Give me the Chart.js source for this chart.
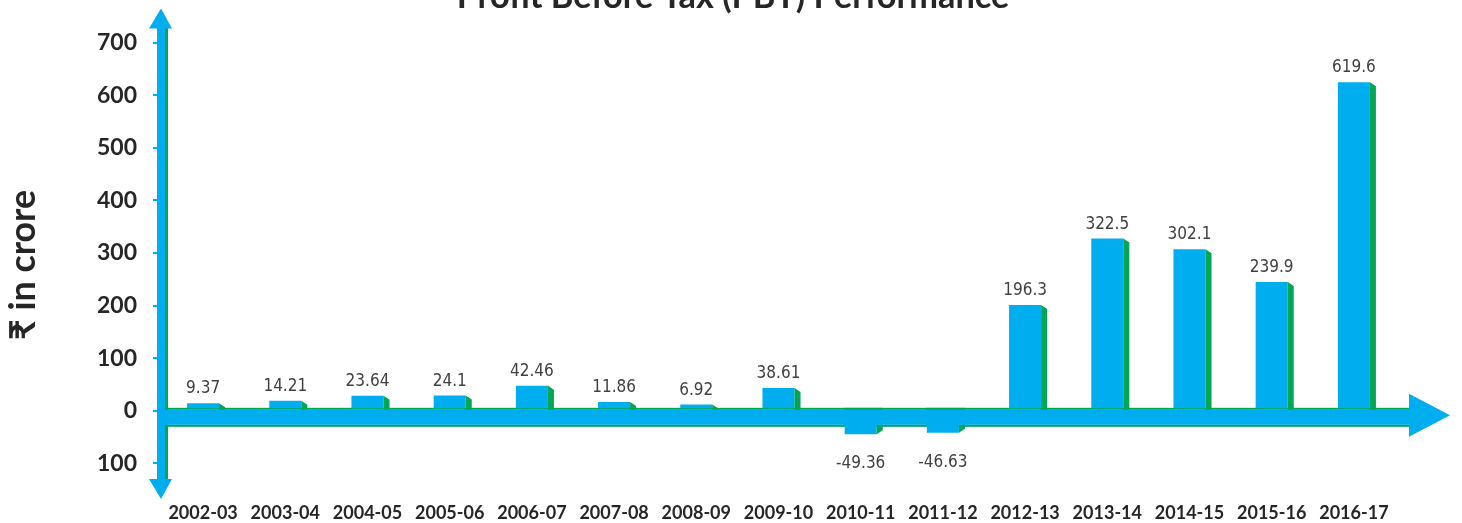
<!DOCTYPE html>
<html>
<head>
<meta charset="utf-8">
<title>PBT Performance</title>
<script src="https://cdn.jsdelivr.net/npm/chart.js@4.4.1/dist/chart.umd.min.js"></script>
<style>
  html, body { margin: 0; padding: 0; background: #ffffff; }
  #wrap { position: relative; width: 1462px; height: 523px; }
</style>
</head>
<body>
<div id="wrap"><canvas id="pbtChart"></canvas></div>
<script>
// values
const years = ['2002-03', '2003-04', '2004-05', '2005-06', '2006-07', '2007-08', '2008-09', '2009-10',
               '2010-11', '2011-12', '2012-13', '2013-14', '2014-15', '2015-16', '2016-17'];
const pbtValues = [9.37, 14.21, 23.64, 24.1, 42.46, 11.86, 6.92, 38.61,
                   -49.36, -46.63, 196.3, 322.5, 302.1, 239.9, 619.6];
const yTickValues = [-100, 0, 100, 200, 300, 400, 500, 600, 700];
const chartTitle = 'Profit Before Tax (PBT) Performance';
const yAxisTitle = '₹ in crore';

const BLUE = '#00AEEF';
const GREEN = '#00A651';
const INK = '#262626';

// hand drawn style axes: thick blue arrows with a green edge, 3D side faces on the bars
const arrowAxes = {
    id: 'arrowAxes',
    beforeDatasetsDraw(chart) {
        const { ctx, chartArea: ca, scales } = chart;
        const z = scales.y.getPixelForValue(0);
        const cx = ca.left - 1;
        ctx.save();
        // vertical axis
        ctx.fillStyle = BLUE;
        ctx.fillRect(ca.left - 5, ca.top + 16, 8, ca.bottom - ca.top - 31);
        ctx.fillStyle = GREEN;
        ctx.fillRect(ca.left + 3, ca.top + 17, 3, ca.bottom - ca.top - 33);
        ctx.fillStyle = BLUE;
        ctx.beginPath();
        ctx.moveTo(cx, ca.top - 2.5);
        ctx.lineTo(ca.left + 10, ca.top + 17.5);
        ctx.lineTo(ca.left - 13, ca.top + 17.5);
        ctx.closePath();
        ctx.fill();
        ctx.beginPath();
        ctx.moveTo(cx, ca.bottom + 4);
        ctx.lineTo(ca.left + 10, ca.bottom - 16);
        ctx.lineTo(ca.left - 13, ca.bottom - 16);
        ctx.closePath();
        ctx.fill();
        // horizontal band at zero
        ctx.fillStyle = GREEN;
        ctx.fillRect(ca.left + 3, z - 3, ca.right + 15 - (ca.left + 3), 2);
        ctx.fillRect(ca.left + 6, z + 14, ca.right + 15 - (ca.left + 6), 2);
        ctx.fillStyle = BLUE;
        ctx.fillRect(ca.left - 5, z - 1, ca.right + 20 - (ca.left - 5), 15);
        ctx.beginPath();
        ctx.moveTo(ca.right + 14, z - 17);
        ctx.lineTo(ca.right + 55, z + 4.5);
        ctx.lineTo(ca.right + 14, z + 26);
        ctx.closePath();
        ctx.fill();
        ctx.restore();
    },
    afterDatasetsDraw(chart) {
        const { ctx, scales } = chart;
        const z = scales.y.getPixelForValue(0);
        const meta = chart.getDatasetMeta(0);
        ctx.save();
        meta.data.forEach((bar, i) => {
            const v = pbtValues[i];
            const left = bar.x - bar.width / 2;
            const right = bar.x + bar.width / 2;
            ctx.fillStyle = GREEN;
            ctx.beginPath();
            if (v >= 0) {
                ctx.moveTo(right, bar.y);
                ctx.lineTo(right + 6, bar.y + 4);
                ctx.lineTo(right + 6, z - 1);
                ctx.lineTo(right, z - 1);
            } else {
                ctx.moveTo(right, z + 14);
                ctx.lineTo(right + 6, z + 14);
                ctx.lineTo(right + 6, bar.y - 4);
                ctx.lineTo(right, bar.y);
            }
            ctx.closePath();
            ctx.fill();
            if (v < 0) {
                // band stays in front of the hanging bars
                ctx.fillRect(left - 1, z - 3, right + 7 - left, 2);
                ctx.fillStyle = BLUE;
                ctx.fillRect(left - 1, z - 1, right + 7 - left, 15);
            }
        });
        // value labels
        ctx.font = '17px "Liberation Sans Narrow", "DejaVu Sans Condensed", Lato, sans-serif';
        ctx.fillStyle = '#404040';
        ctx.textAlign = 'center';
        ctx.textBaseline = 'alphabetic';
        meta.data.forEach((bar, i) => {
            const v = pbtValues[i];
            if (v >= 0) {
                ctx.fillText(String(v), bar.x, bar.y - 10);
            } else {
                ctx.fillText(String(v), bar.x, bar.y + 34);
            }
        });
        ctx.restore();
    },
    afterDraw(chart) {
        const { ctx } = chart;
        ctx.save();
        ctx.fillStyle = INK;
        // chart title, mostly above the top edge as in the reference
        ctx.font = 'bold 30px Lato, sans-serif';
        let size = 30 * 553 / ctx.measureText(chartTitle).width;
        ctx.font = 'bold ' + size.toFixed(1) + 'px Lato, sans-serif';
        ctx.textAlign = 'center';
        ctx.textBaseline = 'alphabetic';
        ctx.fillText(chartTitle, 733, 8);
        // y axis title
        ctx.font = 'bold 30px Lato, "Noto Sans", sans-serif';
        size = 30 * 150 / ctx.measureText(yAxisTitle).width;
        ctx.font = 'bold ' + size.toFixed(1) + 'px Lato, "Noto Sans", sans-serif';
        ctx.translate(34.5, 265);
        ctx.rotate(-Math.PI / 2);
        ctx.fillText(yAxisTitle, 0, 0);
        ctx.restore();
    }
};

const ctxPbt = document.getElementById('pbtChart');

const dataPbt = {
    labels: years,
    datasets: [{
        label: 'PBT',
        data: pbtValues,
        yAxisID: 'yBars',
        backgroundColor: BLUE,
        borderWidth: 0,
        barPercentage: 0.39,
        categoryPercentage: 1
    }]
};

const configPbt = {
    type: 'bar',
    data: dataPbt,
    plugins: [arrowAxes],
    options: {
        responsive: true,
        maintainAspectRatio: false,
        animation: false,
        layout: {
            padding: { top: 11, right: 67, bottom: 0, left: 0 }
        },
        plugins: {
            legend: { display: false },
            tooltip: { enabled: false }
        },
        scales: {
            x: {
                grid: { display: false, drawTicks: false },
                border: { display: false },
                ticks: {
                    color: INK,
                    padding: 7,
                    maxRotation: 0,
                    autoSkip: false,
                    font: { family: 'Lato', size: 18, weight: 'bold' }
                },
                afterFit(scale) {
                    scale.height = 28;
                    scale.paddingLeft = 0;
                    scale.paddingRight = 0;
                }
            },
            y: {
                min: -160,
                max: 760,
                border: { display: false },
                grid: {
                    drawOnChartArea: false,
                    color: BLUE,
                    lineWidth: 2,
                    tickLength: 9
                },
                ticks: {
                    color: INK,
                    padding: 16,
                    font: { family: 'Lato', size: 23, weight: 'bold' },
                    callback: (value) => String(Math.abs(value))
                },
                afterBuildTicks(scale) {
                    scale.ticks = yTickValues.map(v => ({ value: v }));
                },
                afterFit(scale) {
                    scale.width = 162;
                    scale.paddingTop = 0;
                    scale.paddingBottom = 0;
                }
            },
            // same scale, floor raised to the top edge of the band like the 3D columns
            yBars: {
                display: false,
                min: -165,
                max: 755
            }
        }
    }
};

const barChartPbt = new Chart(ctxPbt, configPbt);
</script>
</body>
</html>
